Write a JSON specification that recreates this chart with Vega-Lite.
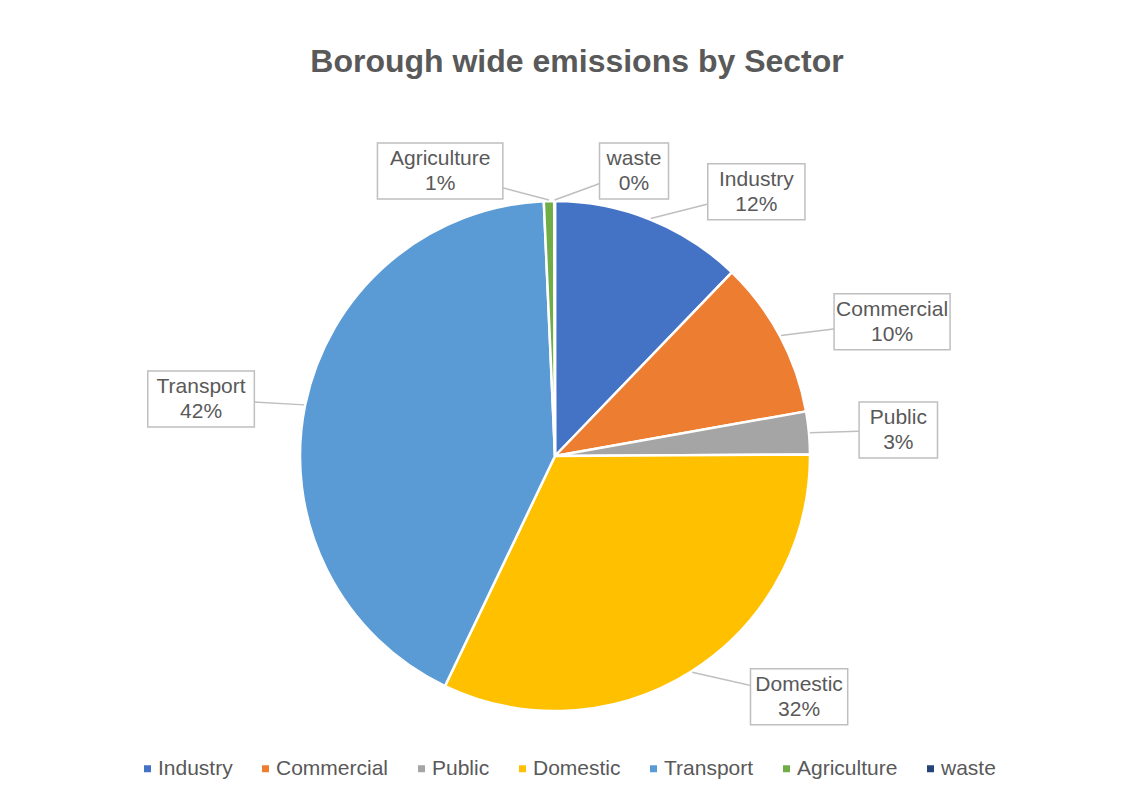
{
  "$schema": "https://vega.github.io/schema/vega-lite/v6.json",
  "width": 1110,
  "height": 612,
  "autosize": "none",
  "padding": {"left": 0, "top": 150, "right": 13, "bottom": 36},
  "background": "white",
  "title": {
    "text": "Borough wide emissions by Sector",
    "font": "Liberation Sans",
    "fontSize": 32,
    "fontWeight": "bold",
    "color": "#595959",
    "anchor": "middle",
    "dx": 22,
    "offset": 63
  },
  "config": {
    "view": {"stroke": null},
    "font": "Liberation Sans"
  },
  "data": {
    "values": [
      {"sector": "Industry", "value": 12.2},
      {"sector": "Commercial", "value": 10.0},
      {"sector": "Public", "value": 2.7},
      {"sector": "Domestic", "value": 32.2},
      {"sector": "Transport", "value": 42.2},
      {"sector": "Agriculture", "value": 0.65},
      {"sector": "waste", "value": 0.05}
    ]
  },
  "transform": [
    {"window": [{"op": "row_number", "as": "rank"}]},
    {"joinaggregate": [{"op": "sum", "field": "value", "as": "total"}]},
    {"window": [{"op": "sum", "field": "value", "as": "cum"}], "sort": [{"field": "rank", "order": "ascending"}], "frame": [null, 0]},
    {"calculate": "(datum.cum - datum.value / 2) / datum.total * 2 * PI", "as": "a"},
    {"calculate": "datum.value / datum.total", "as": "pct"},
    {"calculate": "format(datum.pct, '.0%')", "as": "pctText"},
    {"calculate": "[datum.sector, datum.pctText]", "as": "lines"},
    {"calculate": "max(length(datum.sector), length(datum.pctText))", "as": "nch"},
    {"calculate": "(datum.nch * 9.4 + 22) / 2", "as": "hw"},
    {"calculate": "sin(datum.a) < -0.005 ? -1 : 1", "as": "side"},
    {"calculate": "305 * sin(datum.a) + datum.side * (datum.hw + 45 * cos(datum.a) * cos(datum.a))", "as": "cx"},
    {"calculate": "285 * cos(datum.a)", "as": "cy"},
    {"calculate": "datum.cx - datum.hw", "as": "bx1"},
    {"calculate": "datum.cx + datum.hw", "as": "bx2"},
    {"calculate": "datum.cy - 28", "as": "by1"},
    {"calculate": "datum.cy + 28", "as": "by2"},
    {"calculate": "256 * sin(datum.a)", "as": "ex"},
    {"calculate": "256 * cos(datum.a)", "as": "ey"}
  ],
  "layer": [
    {
      "mark": {"type": "arc", "outerRadius": 255, "stroke": "white", "strokeWidth": 2.5},
      "encoding": {
        "theta": {"field": "value", "type": "quantitative", "stack": true},
        "order": {"field": "rank", "type": "quantitative"},
        "color": {
          "field": "sector",
          "type": "nominal",
          "scale": {
            "domain": ["Industry", "Commercial", "Public", "Domestic", "Transport", "Agriculture", "waste"],
            "range": ["#4472C4", "#ED7D31", "#A5A5A5", "#FFC000", "#5B9BD5", "#70AD47", "#264478"]
          },
          "legend": {
            "title": null,
            "orient": "none",
            "legendX": 137,
            "legendY": 608,
            "direction": "horizontal",
            "symbolType": "square",
            "symbolSize": 49,
            "symbolStrokeWidth": 0,
            "labelFont": "Liberation Sans",
            "labelFontSize": 21,
            "labelColor": "#595959",
            "labelOffset": 0,
            "columnPadding": 22
          }
        }
      }
    },
    {
      "mark": {"type": "rule", "color": "#BFBFBF", "strokeWidth": 1.5},
      "encoding": {
        "x": {"field": "ex", "type": "quantitative", "scale": {"domain": [-555, 555]}, "axis": null},
        "y": {"field": "ey", "type": "quantitative", "scale": {"domain": [-306, 306]}, "axis": null},
        "x2": {"field": "cx"},
        "y2": {"field": "cy"}
      }
    },
    {
      "mark": {"type": "rect", "fill": "white", "stroke": "#BFBFBF", "strokeWidth": 1.5},
      "encoding": {
        "x": {"field": "bx1", "type": "quantitative", "scale": {"domain": [-555, 555]}, "axis": null},
        "x2": {"field": "bx2"},
        "y": {"field": "by1", "type": "quantitative", "scale": {"domain": [-306, 306]}, "axis": null},
        "y2": {"field": "by2"}
      }
    },
    {
      "mark": {"type": "text", "font": "Liberation Sans", "fontSize": 21, "color": "#595959", "align": "center", "baseline": "middle", "lineHeight": 25, "dy": -12},
      "encoding": {
        "x": {"field": "cx", "type": "quantitative", "scale": {"domain": [-555, 555]}, "axis": null},
        "y": {"field": "cy", "type": "quantitative", "scale": {"domain": [-306, 306]}, "axis": null},
        "text": {"field": "lines"}
      }
    }
  ]
}
